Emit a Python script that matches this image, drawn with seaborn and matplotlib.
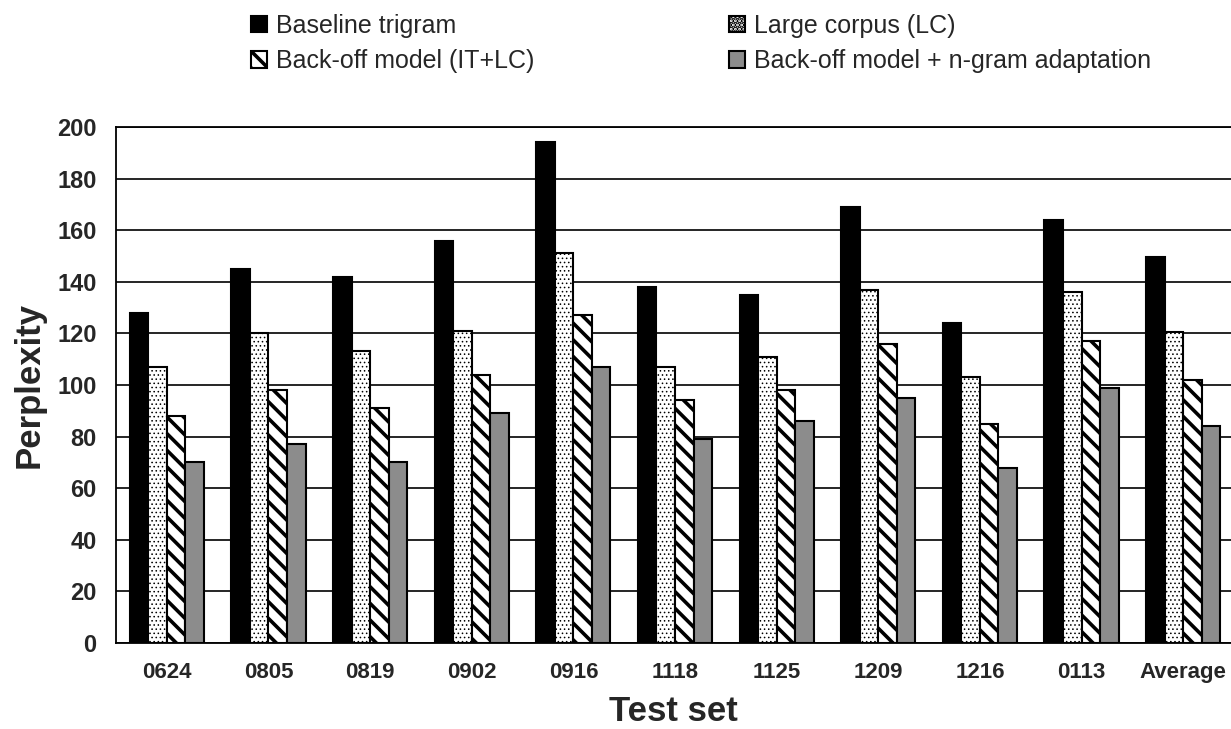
import matplotlib
matplotlib.use("Agg")
import matplotlib.pyplot as plt
import pandas as pd
import seaborn as sns

test_sets = ["0624", "0805", "0819", "0902", "0916", "1118", "1125",
             "1209", "1216", "0113", "Average"]
series_names = ["Baseline trigram", "Large corpus (LC)",
                "Back-off model (IT+LC)", "Back-off model + n-gram adaptation"]
baseline = [128, 145, 142, 156, 194, 138, 135, 169, 124, 164, 149.5]
large_corpus = [107, 120, 113, 121, 151, 107, 111, 137, 103, 136, 120.6]
backoff = [88, 98, 91, 104, 127, 94, 98, 116, 85, 117, 101.8]
adapted = [70, 77, 70, 89, 107, 79, 86, 95, 68, 99, 84]

rows = []
for name, vals in zip(series_names, [baseline, large_corpus, backoff, adapted]):
    for t, v in zip(test_sets, vals):
        rows.append({"Test set": t, "model": name, "Perplexity": v})
df = pd.DataFrame(rows)

sns.set_style("white")
plt.rcParams["font.family"] = ["Liberation Sans", "DejaVu Sans"]
plt.rcParams["hatch.linewidth"] = 2.6

fig = plt.figure(figsize=(12.31, 7.29), dpi=100)
ax = fig.add_axes([116 / 1231, 86 / 729, 1 - 116 / 1231, 516 / 729])

faces = ["black", "white", "white", "#8c8c8c"]
hatches = [None, "....", "\\\\", None]
hatch_lw = [1, 0.6, 2.6, 1]
sns.barplot(data=df, x="Test set", y="Perplexity", hue="model",
            hue_order=series_names, order=test_sets, width=0.73,
            palette=faces, edgecolor="black", linewidth=1.5,
            saturation=1, legend=False, ax=ax)

for cont, fc, h, hl in zip(ax.containers, faces, hatches, hatch_lw):
    for bar in cont:
        bar.set_facecolor(fc)
        bar.set_edgecolor("black")
        if h:
            bar.set_hatch(h)
            if hasattr(bar, "set_hatch_linewidth"):
                bar.set_hatch_linewidth(hl)

ax.set_ylim(0, 200)
ax.set_xlim(-0.5, 10.47)
ax.set_yticks(range(0, 201, 20))
ax.yaxis.grid(True, color="black", linewidth=1.2)
ax.set_axisbelow(True)
for s in ["left", "bottom", "top"]:
    ax.spines[s].set_color("black")
    ax.spines[s].set_linewidth(1.3)
ax.spines["right"].set_visible(False)

ax.set_xticks([i + 0.5 for i in range(10)], minor=True)
ax.tick_params(axis="x", which="major", length=0, pad=14)
ax.tick_params(axis="x", which="minor", direction="in", length=6, color="black")
ax.tick_params(axis="y", direction="out", length=4, color="black", pad=10)
for lab in ax.get_xticklabels():
    lab.set_fontsize(16)
    lab.set_fontweight("bold")
for lab in ax.get_yticklabels():
    lab.set_fontsize(17)
    lab.set_fontweight("bold")

ax.set_xlabel("Test set", fontsize=25, fontweight="bold", labelpad=8)
ax.set_ylabel("Perplexity", fontsize=25, fontweight="bold", labelpad=8)

handles = list(ax.containers)
order = [0, 2, 1, 3]
fig.legend([handles[i][0] for i in order], [series_names[i] for i in order],
           loc="upper left", bbox_to_anchor=(251 / 1231, 1 - 14 / 729), ncol=2,
           frameon=False, fontsize=18, handlelength=0.64, handleheight=0.64,
           handletextpad=0.36, columnspacing=7.8, labelspacing=0.45,
           borderaxespad=0, borderpad=0)

fig.savefig("out.png", dpi=100)
